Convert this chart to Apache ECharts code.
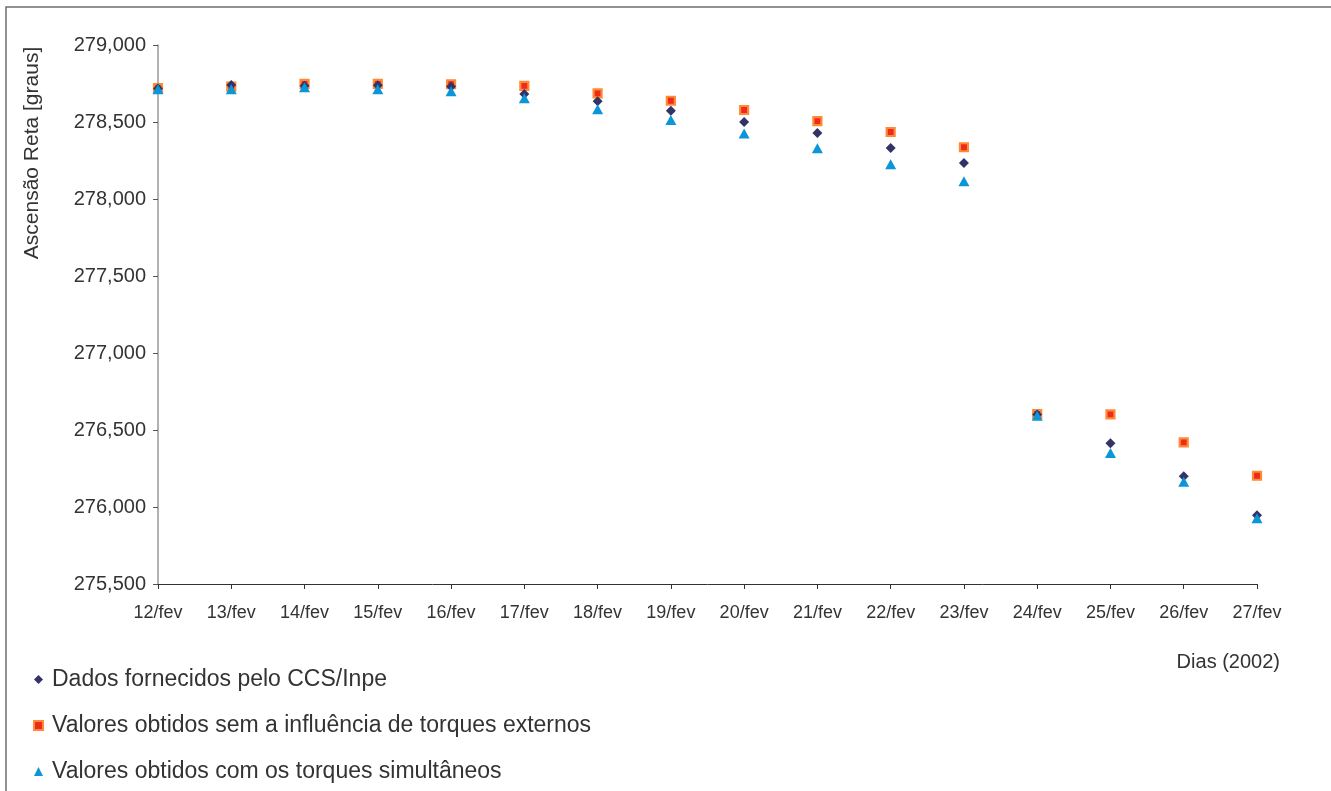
<!DOCTYPE html>
<html>
<head>
<meta charset="utf-8">
<script src="https://cdn.jsdelivr.net/npm/echarts@6/dist/echarts.min.js"></script>
<style>html,body{margin:0;padding:0;background:#fff}#c{width:1331px;height:791px}</style>
</head>
<body>
<div id="c"></div>
<script>
var categories = ['12/fev','13/fev','14/fev','15/fev','16/fev','17/fev','18/fev','19/fev','20/fev','21/fev','22/fev','23/fev','24/fev','25/fev','26/fev','27/fev'];
var ccsInpe = [278718, 278740, 278735, 278738, 278730, 278682, 278634, 278573, 278500, 278429, 278331, 278234, 276600, 276414, 276199, 275946];
var semTorques = [278720, 278730, 278747, 278747, 278745, 278734, 278686, 278638, 278578, 278506, 278435, 278336, 276604, 276602, 276420, 276203];
var comTorques = [278712, 278712, 278725, 278712, 278700, 278654, 278582, 278513, 278426, 278329, 278225, 278115, 276592, 276350, 276164, 275927];
var yTicks = {min: 275500, max: 279000, interval: 500};

var font = 'Liberation Sans, Arial, Helvetica, sans-serif';
var chart = echarts.init(document.getElementById('c'), null, {renderer: 'canvas'});
chart.setOption({
  animation: false,
  backgroundColor: '#ffffff',
  textStyle: {fontFamily: font},
  graphic: [{
    type: 'rect', silent: true, z: -10,
    shape: {x: 6, y: 7, width: 1400, height: 900},
    style: {fill: 'none', stroke: '#6e6e6e', lineWidth: 1.5}
  }, {
    type: 'text', silent: true, x: 32, y: 153, rotation: Math.PI / 2,
    style: {text: 'Ascensão Reta [graus]', fontFamily: font, fontSize: 21, fill: '#333',
      align: 'center', verticalAlign: 'middle'}
  }, {
    type: 'text', silent: true, x: 1280, y: 662,
    style: {text: 'Dias (2002)', fontFamily: font, fontSize: 20, fill: '#333',
      align: 'right', verticalAlign: 'middle'}
  }],
  grid: {left: 158, right: 74, top: 45, bottom: 207, containLabel: false},
  legend: {
    orient: 'vertical', left: 28, top: 663,
    itemWidth: 9, itemHeight: 9, itemGap: 23,
    data: ['Dados fornecidos pelo CCS/Inpe', 'Valores obtidos sem a influência de torques externos', 'Valores obtidos com os torques simultâneos'],
    textStyle: {fontFamily: font, fontSize: 23, color: '#333', lineHeight: 23, padding: [0,0,0,4]}
  },
  xAxis: {
    type: 'category', data: categories, boundaryGap: false,
    axisLine: {lineStyle: {color: '#333', width: 1}},
    axisTick: {show: true, length: 5, alignWithLabel: true, lineStyle: {color: '#333'}},
    axisLabel: {fontFamily: font, fontSize: 18, color: '#333', margin: 20, interval: 0},
    splitLine: {show: false}
  },
  yAxis: {
    type: 'value', min: yTicks.min, max: yTicks.max, interval: yTicks.interval,
    axisLine: {show: true, lineStyle: {color: '#999', width: 1.5}},
    axisTick: {show: true, length: 5, lineStyle: {color: '#555'}},
    axisLabel: {fontFamily: font, fontSize: 20, color: '#333', margin: 12,
      formatter: function (v) { return v.toLocaleString('en-US'); }},
    splitLine: {show: false}
  },
  series: [
    {
      name: 'Valores obtidos sem a influência de torques externos', type: 'scatter', z: 2,
      symbol: 'rect', symbolSize: 8, data: semTorques,
      itemStyle: {color: '#ee2a1f', borderColor: '#ff8a35', borderWidth: 2.2, opacity: 1}
    },
    {
      name: 'Dados fornecidos pelo CCS/Inpe', type: 'scatter', z: 3,
      symbol: 'diamond', symbolSize: [10, 10], data: ccsInpe,
      itemStyle: {color: '#333366', opacity: 1}
    },
    {
      name: 'Valores obtidos com os torques simultâneos', type: 'scatter', z: 4,
      symbol: 'triangle', symbolSize: [11, 10], data: comTorques,
      itemStyle: {color: '#0a96d8', opacity: 1}
    }
  ]
});
</script>
</body>
</html>
